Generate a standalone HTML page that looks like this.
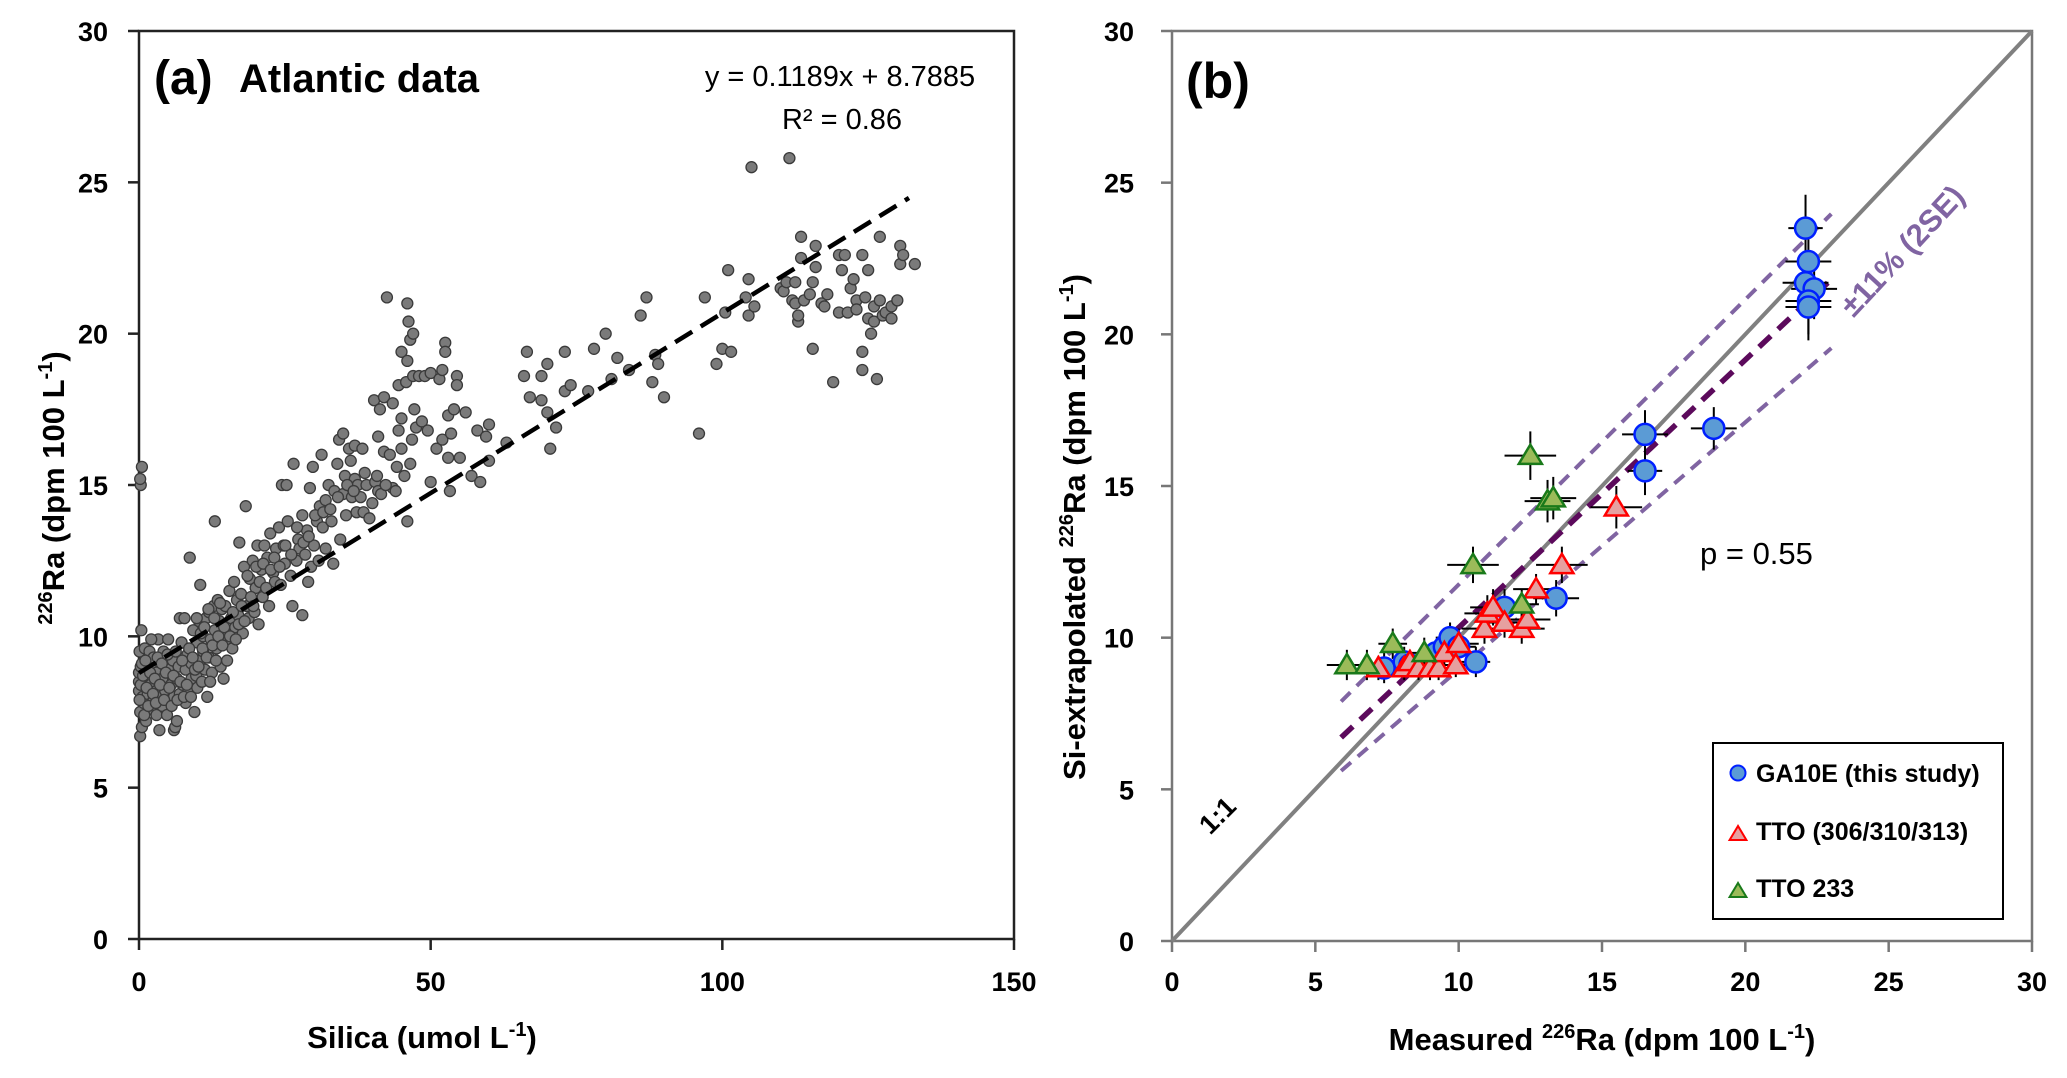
<!DOCTYPE html>
<html><head><meta charset="utf-8">
<style>
html,body{margin:0;padding:0;background:#fff;}
svg{display:block;font-family:"Liberation Sans",Arial,sans-serif;}
.tk{font-size:27px;font-weight:bold;fill:#000;}
.ttl{font-size:31px;font-weight:bold;fill:#000;}
</style></head>
<body>
<svg id="chart" width="2067" height="1078" viewBox="0 0 2067 1078" xmlns="http://www.w3.org/2000/svg">
<g id="pa"></g>
<g id="pb"></g>
</svg>
<script>
// ---- Panel (a) data ----
const atlanticPairs = [
[0,8.2],[0,8.5],[0,8.8],[0.2,7.5],[0.3,9.0],[0.1,9.5],[0.4,10.2],[0.2,6.7],[0.5,7.0],[0.6,8.0],[0.3,15.0],[0.2,15.2],[0.5,15.6],[0.8,7.8],[1,8.6],[1,9.6],[1.2,7.2],[1.5,8.1],[1.5,9.1],[1.8,9.5],[2,7.6],[2,8.4],[2.2,8.9],[2.5,7.9],[2.5,9.3],[3,8.2],[3,7.4],[3,8.8],[3.3,9.9],[3.5,6.9],[3.8,8.0],[4,8.6],[4,7.7],[4.2,9.5],[4.5,8.2],[4.8,7.4],[5,8.9],[5,9.9],[5.3,7.9],[5.5,8.4],[5.8,9.2],[6,8.0],[6,6.9],[6.2,7.0],[6.5,7.2],[6.5,8.6],[6.8,9.0],[7,10.6],[7,8.1],[7.3,9.8],[7.5,8.4],[7.8,10.6],[8,8.9],[8,7.8],[8.3,9.4],[8.5,8.2],[8.7,12.6],[9,9.1],[9,8.6],[9.3,10.2],[9.5,7.5],[9.8,8.7],[10,9.8],[10,8.3],[10.3,10.5],[10.5,11.7],[10.5,9.2],[10.8,8.5],[11,10.0],[11,9.5],[11.3,8.9],[11.5,10.6],[11.7,8.0],[12,9.3],[12,10.8],[12.3,9.9],[12.5,8.8],[12.8,11.0],[13,10.2],[13,13.8],[13.3,9.6],[13.5,11.2],[13.8,10.5],[14,9.0],[14.2,10.9],[14.5,8.6],[14.8,11.0],[15,10.1],[15.3,9.9],[15.5,11.5],[15.8,10.6],[16,9.6],[16.3,11.8],[16.5,10.3],[16.8,11.2],[17,10.7],[17.2,13.1],[17.5,11.4],[17.8,10.1],[18,12.3],[18.3,14.3],[18.5,11.0],[18.8,10.6],[19,11.9],[19.5,12.5],[19.8,10.8],[20,11.6],[20.3,13.0],[20.5,10.4],[21,12.2],[21.2,11.3],[21.5,13.0],[22,12.6],[22.3,11.0],[22.5,13.4],[23,12.1],[23.3,11.8],[23.5,12.9],[24,13.6],[24.3,11.7],[24.5,15.0],[24.8,13.0],[25,12.4],[25.3,15.0],[25.5,13.8],[26,12.0],[26.3,11.0],[26.5,15.7],[27,12.5],[27.3,13.2],[27.5,12.9],[28,10.7],[28,14.0],[28.5,12.7],[28.8,13.5],[29,11.8],[29.3,14.9],[29.5,12.3],[29.8,15.6],[30,13.0],[30.5,13.8],[30.8,12.5],[31,14.3],[31.3,16.0],[31.5,13.6],[32,14.5],[32,12.9],[32.5,15.0],[33,13.8],[33.3,12.4],[33.5,14.8],[34,15.7],[34.3,16.5],[34.5,13.2],[35,14.7],[35,16.7],[35.3,15.3],[35.5,14.0],[36,16.2],[36.3,15.8],[36.5,14.6],[37,15.2],[37,16.3],[37.3,14.1],[37.5,15.0],[38,14.6],[38.3,16.2],[38.5,14.1],[39,15.0],[39.5,13.9],[40,14.4],[40.3,17.8],[40.5,15.1],[41,14.8],[41,16.6],[41.3,17.5],[41.5,14.7],[42,17.9],[42,16.1],[42.5,21.2],[43,16.0],[43.5,14.9],[43.5,17.7],[44,14.8],[44.5,18.3],[44.5,16.8],[45,19.4],[45,17.2],[45,16.2],[45.5,15.3],[45.8,18.4],[46,19.1],[46,21.0],[46.2,20.4],[46.5,19.8],[46,13.8],[46.5,15.7],[46.8,16.5],[47,20.0],[47,18.6],[47.2,17.5],[47.5,16.9],[48,18.6],[48.5,17.1],[49,18.6],[49.5,16.8],[50,18.7],[50,15.1],[51,16.2],[51.5,18.5],[52,18.8],[52,16.5],[52.5,19.7],[52.5,19.4],[53,17.3],[53,15.9],[53.3,14.8],[53.5,16.7],[54,17.5],[54.5,18.6],[54.5,18.3],[55,15.9],[56,17.4],[57,15.3],[58,16.8],[58.5,15.1],[59.5,16.6],[60,15.8],[60,17.0],[63,16.4],[66,18.6],[66.5,19.4],[67,17.9],[69,18.6],[69,17.8],[70,19.0],[70,17.4],[70.5,16.2],[71.5,16.9],[73,19.4],[73,18.1],[74,18.3],[77,18.1],[78,19.5],[80,20.0],[81,18.5],[82,19.2],[84,18.8],[86,20.6],[87,21.2],[88,18.4],[88.5,19.3],[89,19.0],[90,17.9],[96,16.7],[97,21.2],[99,19.0],[100,19.5],[100.5,20.7],[101,22.1],[101.5,19.4],[104,21.2],[104.5,20.6],[104.5,21.8],[105,25.5],[105.5,20.9],[110,21.5],[110.5,21.4],[111,21.7],[111.5,25.8],[112,21.1],[112.5,21.7],[112.5,21.0],[113,20.4],[113,20.6],[113.5,22.5],[113.5,23.2],[114,21.1],[115,21.3],[115.5,21.7],[115.5,19.5],[116,22.9],[116,22.2],[117,21.0],[117.5,20.9],[118,21.3],[119,18.4],[120,20.7],[120,22.6],[120.5,22.1],[121,22.6],[121.5,20.7],[122,21.5],[122.5,21.8],[123,21.1],[123,20.8],[124,22.6],[124,19.4],[124,18.8],[124.5,21.2],[125,20.5],[125,22.1],[125.5,20.0],[126,20.9],[126,20.4],[126.5,18.5],[127,21.1],[127,23.2],[127.5,20.6],[128,20.7],[129,20.5],[129,20.9],[130,21.1],[130.5,22.3],[130.5,22.9],[131,22.6],[133,22.3],
[0.1,7.9],[0.3,8.4],[0.5,9.1],[0.7,8.7],[0.9,7.4],[1.1,9.2],[1.3,8.3],[1.6,7.7],[1.9,8.8],[2.1,9.9],[2.4,8.1],[2.7,8.6],[2.9,7.8],[3.2,9.3],[3.6,8.4],[3.9,9.1],[4.3,7.9],[4.6,8.8],[4.9,9.4],[5.2,8.3],[5.6,7.7],[5.9,8.7],[6.3,9.5],[6.6,7.9],[7.1,8.5],[7.4,9.2],[7.7,8.0],[8.2,8.4],[8.6,9.6],[8.9,8.0],[9.2,9.3],[9.6,8.9],[9.9,10.6],[10.2,9.0],[10.6,10.1],[10.9,9.6],[11.2,10.3],[11.6,9.3],[11.9,10.9],[12.2,8.5],[12.6,9.7],[12.9,10.6],[13.2,9.2],[13.6,10.0],[13.9,11.1],[14.3,9.7],[14.6,10.3],[15.1,9.2],[15.6,10.0],[16.1,10.8],[16.6,9.9],[17.1,10.4],[17.6,11.0],[18.1,10.5],[18.6,12.0],[19.2,11.3],[19.6,11.0],[20.1,12.3],[20.7,11.8],[21.3,12.4],[21.8,11.6],[22.6,12.2],[23.2,12.6],[24.1,12.3],[25.1,13.0],[26.1,12.7],[27.1,13.6],[28.2,13.1],[29.1,13.3],[30.2,14.0],[31.6,14.1],[32.8,14.2],[34.1,14.6],[35.7,15.0],[36.8,14.8],[38.7,15.4],[40.8,15.3],[42.3,15.0],[44.2,15.6]
];
const fitSlope = 0.1189;
const fitIntercept = 8.7885;
const fitRange = [0, 132];
const aXTicks = [0, 50, 100, 150];
const aYTicks = [0, 5, 10, 15, 20, 25, 30];

// ---- Panel (b) data ----
const gaX = [7.4,8.1,8.3,9.2,9.5,9.7,10.0,10.6,11.6,13.4,16.5,16.5,18.9,22.1,22.2,22.1,22.4,22.2,22.2];
const gaY = [9.0,9.2,9.1,9.5,9.7,10.0,9.7,9.2,11.0,11.3,16.7,15.5,16.9,23.5,22.4,21.7,21.5,21.1,20.9];
const gaXErr = [0.5,0.5,0.5,0.5,0.5,0.5,0.6,0.5,0.7,0.8,0.8,0.6,0.8,0.6,0.8,0.8,0.8,0.8,0.8];
const gaYErr = [0.5,0.5,0.4,0.4,0.5,0.5,0.5,0.5,0.6,0.6,0.8,0.8,0.7,1.1,1.0,1.0,1.0,1.1,1.1];
const ttoX = [7.2,8.1,8.3,8.6,9.0,9.3,9.5,9.9,10.0,10.9,11.0,11.2,11.6,12.2,12.4,12.7,13.6,15.5];
const ttoY = [9.0,9.0,9.2,9.0,9.0,9.0,9.5,9.1,9.8,10.3,10.8,11.0,10.5,10.3,10.6,11.6,12.4,14.3];
const ttoXErr = [0.5,0.5,0.5,0.5,0.5,0.5,0.5,0.6,0.7,0.8,0.8,0.8,0.8,0.8,0.8,0.8,0.9,0.9];
const ttoYErr = [0.4,0.4,0.4,0.4,0.4,0.4,0.5,0.4,0.5,0.5,0.6,0.6,0.5,0.5,0.5,0.5,0.6,0.7];
const t233X = [6.1,6.8,7.7,8.8,10.5,12.2,12.5,13.1,13.3];
const t233Y = [9.1,9.1,9.8,9.5,12.4,11.1,16.0,14.5,14.6];
const t233XErr = [0.7,0.6,0.5,0.5,0.9,0.6,0.9,0.8,0.8];
const t233YErr = [0.5,0.5,0.5,0.5,0.6,0.5,0.8,0.7,0.7];
const bTicks = [0, 5, 10, 15, 20, 25, 30];
const regSlope = 0.883, regIntercept = 1.5;
const upperSlope = 0.94, upperIntercept = 2.35;
const lowerSlope = 0.815, lowerIntercept = 0.8;
const regRange = [5.9, 23];

const NS = "http://www.w3.org/2000/svg";
function mk(tag, attrs, parent, text) {
  const e = document.createElementNS(NS, tag);
  for (const k in attrs) e.setAttribute(k, attrs[k]);
  if (text !== undefined) e.textContent = text;
  parent.appendChild(e);
  return e;
}

// ---- Panel (a) ----
const pa = document.getElementById('pa');
const aL = 139, aR = 1014, aT = 31, aB = 939;
const ax = v => aL + (v - 0) / 150 * (aR - aL);
const ay = v => aB - v / 30 * (aB - aT);

let frameA = mk('rect', {x: aL, y: aT, width: aR - aL, height: aB - aT, fill: 'none', stroke: '#222', 'stroke-width': 2.5}, pa);


aYTicks.forEach(t => {
  let l = mk('line', {x1: aL - 11, x2: aL, y1: ay(t), y2: ay(t), stroke: '#222', 'stroke-width': 2.5}, pa);
  
  
  let tx = mk('text', {x: aL - 31, y: ay(t) + 10, 'text-anchor': 'end', class: 'tk'}, pa, String(t));
  
  
});
aXTicks.forEach(t => {
  let l = mk('line', {x1: ax(t), x2: ax(t), y1: aB, y2: aB + 11, stroke: '#222', 'stroke-width': 2.5}, pa);
  
  
  let tx = mk('text', {x: ax(t), y: aB + 52, 'text-anchor': 'middle', class: 'tk'}, pa, String(t));
  
  
});
atlanticPairs.forEach(p => {
  let c = mk('circle', {cx: ax(p[0]), cy: ay(p[1]), r: 5.5, fill: '#7a7a7a', stroke: '#3a3a3a', 'stroke-width': 1.3}, pa);
  
  
});
let fit = mk('line', {x1: ax(fitRange[0]), y1: ay(fitIntercept + fitSlope * fitRange[0]), x2: ax(fitRange[1]), y2: ay(fitIntercept + fitSlope * fitRange[1]), stroke: '#000', 'stroke-width': 4.5, 'stroke-dasharray': '20 10'}, pa);



let la = mk('text', {x: 154, y: 94, 'font-size': 48, 'font-weight': 'bold'}, pa, '(a)');


let lat = mk('text', {x: 239, y: 92, 'font-size': 40, 'font-weight': 'bold'}, pa, 'Atlantic data');


let eq = mk('text', {x: 840, y: 86, 'font-size': 29, 'text-anchor': 'middle'}, pa, 'y = 0.1189x + 8.7885');


let r2 = mk('text', {x: 842, y: 129, 'font-size': 29, 'text-anchor': 'middle'}, pa, 'R² = 0.86');



let xta = mk('text', {x: 422, y: 1048, 'text-anchor': 'middle', class: 'ttl'}, pa);


xta.innerHTML = 'Silica (umol L<tspan dy="-12" font-size="20">-1</tspan><tspan dy="12">)</tspan>';
let yta = mk('text', {x: 0, y: 0, 'text-anchor': 'middle', class: 'ttl', transform: 'translate(64,488) rotate(-90)'}, pa);


yta.innerHTML = '<tspan dy="-12" font-size="20">226</tspan><tspan dy="12">Ra (dpm 100 L</tspan><tspan dy="-12" font-size="20">-1</tspan><tspan dy="12">)</tspan>';

// ---- Panel (b) ----
const pb = document.getElementById('pb');
const bL = 1172, bR = 2032, bT = 31, bB = 941;
const bx = v => bL + v / 30 * (bR - bL);
const by = v => bB - v / 30 * (bB - bT);

let frameB = mk('rect', {x: bL, y: bT, width: bR - bL, height: bB - bT, fill: 'none', stroke: '#777', 'stroke-width': 2.5}, pb);


bTicks.forEach(t => {
  let l = mk('line', {x1: bL - 11, x2: bL, y1: by(t), y2: by(t), stroke: '#777', 'stroke-width': 2.5}, pb);
  
  
  let tx = mk('text', {x: bL - 38, y: by(t) + 10, 'text-anchor': 'end', class: 'tk'}, pb, String(t));
  
  
  let l2 = mk('line', {x1: bx(t), x2: bx(t), y1: bB, y2: bB + 11, stroke: '#777', 'stroke-width': 2.5}, pb);
  
  
  let tx2 = mk('text', {x: bx(t), y: bB + 50, 'text-anchor': 'middle', class: 'tk'}, pb, String(t));
  
  
});
let one = mk('line', {x1: bx(0), y1: by(0), x2: bx(30), y2: by(30), stroke: '#808080', 'stroke-width': 4}, pb);


function regLine(s, i, col, w, dash) {
  return mk('line', {x1: bx(regRange[0]), y1: by(i + s * regRange[0]), x2: bx(regRange[1]), y2: by(i + s * regRange[1]), stroke: col, 'stroke-width': w, 'stroke-dasharray': dash}, pb);
}
let up = regLine(upperSlope, upperIntercept, '#8064a2', 4, '13 9');


let lo = regLine(lowerSlope, lowerIntercept, '#8064a2', 4, '13 9');


let rg = regLine(regSlope, regIntercept, '#5c0a5c', 5.5, '16 10');



function errBars(X, Y, XE, YE) {
  X.forEach((x, i) => {
    let h = mk('line', {x1: bx(x - XE[i]), x2: bx(x + XE[i]), y1: by(Y[i]), y2: by(Y[i]), stroke: '#000', 'stroke-width': 2}, pb);
    
    
    let v = mk('line', {x1: bx(x), x2: bx(x), y1: by(Y[i] - YE[i]), y2: by(Y[i] + YE[i]), stroke: '#000', 'stroke-width': 2}, pb);
    
    
  });
}
errBars(gaX, gaY, gaXErr, gaYErr);
errBars(ttoX, ttoY, ttoXErr, ttoYErr);
errBars(t233X, t233Y, t233XErr, t233YErr);
function tri(cx, cy, s) {
  return `${cx},${cy - s} ${cx - s * 1.05},${cy + s * 0.75} ${cx + s * 1.05},${cy + s * 0.75}`;
}
gaX.forEach((x, i) => {
  let c = mk('circle', {cx: bx(x), cy: by(gaY[i]), r: 10.5, fill: '#5b9bd5', stroke: '#0020ff', 'stroke-width': 2.5}, pb);
  
  
});
ttoX.forEach((x, i) => {
  let p = mk('polygon', {points: tri(bx(x), by(ttoY[i]), 11), fill: '#e6a0a0', stroke: '#ff0000', 'stroke-width': 2.5}, pb);
  
  
});
t233X.forEach((x, i) => {
  let p = mk('polygon', {points: tri(bx(x), by(t233Y[i]), 11), fill: '#9bbb59', stroke: '#1a7a1a', 'stroke-width': 2.5}, pb);
  
  
});

let lb = mk('text', {x: 1186, y: 98, 'font-size': 50, 'font-weight': 'bold'}, pb, '(b)');


let pv = mk('text', {x: 1700, y: 564, 'font-size': 31}, pb, 'p = 0.55');


let se = mk('text', {x: 0, y: 0, 'font-size': 31, 'font-weight': 'bold', fill: '#8064a2', 'text-anchor': 'middle', transform: 'translate(1910,258) rotate(-47)'}, pb, '±11% (2SE)');


let o1 = mk('text', {x: 0, y: 0, 'font-size': 27, 'font-weight': 'bold', 'text-anchor': 'middle', transform: 'translate(1224,822) rotate(-45)'}, pb, '1:1');



let xtb = mk('text', {x: 1602, y: 1050, 'text-anchor': 'middle', class: 'ttl'}, pb);


xtb.innerHTML = 'Measured <tspan dy="-12" font-size="20">226</tspan><tspan dy="12">Ra (dpm 100 L</tspan><tspan dy="-12" font-size="20">-1</tspan><tspan dy="12">)</tspan>';
let ytb = mk('text', {x: 0, y: 0, 'text-anchor': 'middle', class: 'ttl', transform: 'translate(1085,527) rotate(-90)'}, pb);


ytb.innerHTML = 'Si-extrapolated <tspan dy="-12" font-size="20">226</tspan><tspan dy="12">Ra (dpm 100 L</tspan><tspan dy="-12" font-size="20">-1</tspan><tspan dy="12">)</tspan>';

// legend
const lg = mk('g', {}, pb);


let lbox = mk('rect', {x: 1713, y: 743, width: 290, height: 176, fill: '#fff', stroke: '#000', 'stroke-width': 2}, lg);


let lc = mk('circle', {cx: 1738, cy: 773, r: 7.5, fill: '#5b9bd5', stroke: '#0020ff', 'stroke-width': 2}, lg);


let lt1 = mk('text', {x: 1756, y: 782, 'font-size': 25, 'font-weight': 'bold'}, lg, 'GA10E (this study)');


let lp2 = mk('polygon', {points: tri(1738, 834, 8), fill: '#e6a0a0', stroke: '#ff0000', 'stroke-width': 2}, lg);


let lt2 = mk('text', {x: 1756, y: 840, 'font-size': 25, 'font-weight': 'bold'}, lg, 'TTO (306/310/313)');


let lp3 = mk('polygon', {points: tri(1738, 891, 8), fill: '#9bbb59', stroke: '#1a7a1a', 'stroke-width': 2}, lg);


let lt3 = mk('text', {x: 1756, y: 897, 'font-size': 25, 'font-weight': 'bold'}, lg, 'TTO 233');


</script>
</body></html>
